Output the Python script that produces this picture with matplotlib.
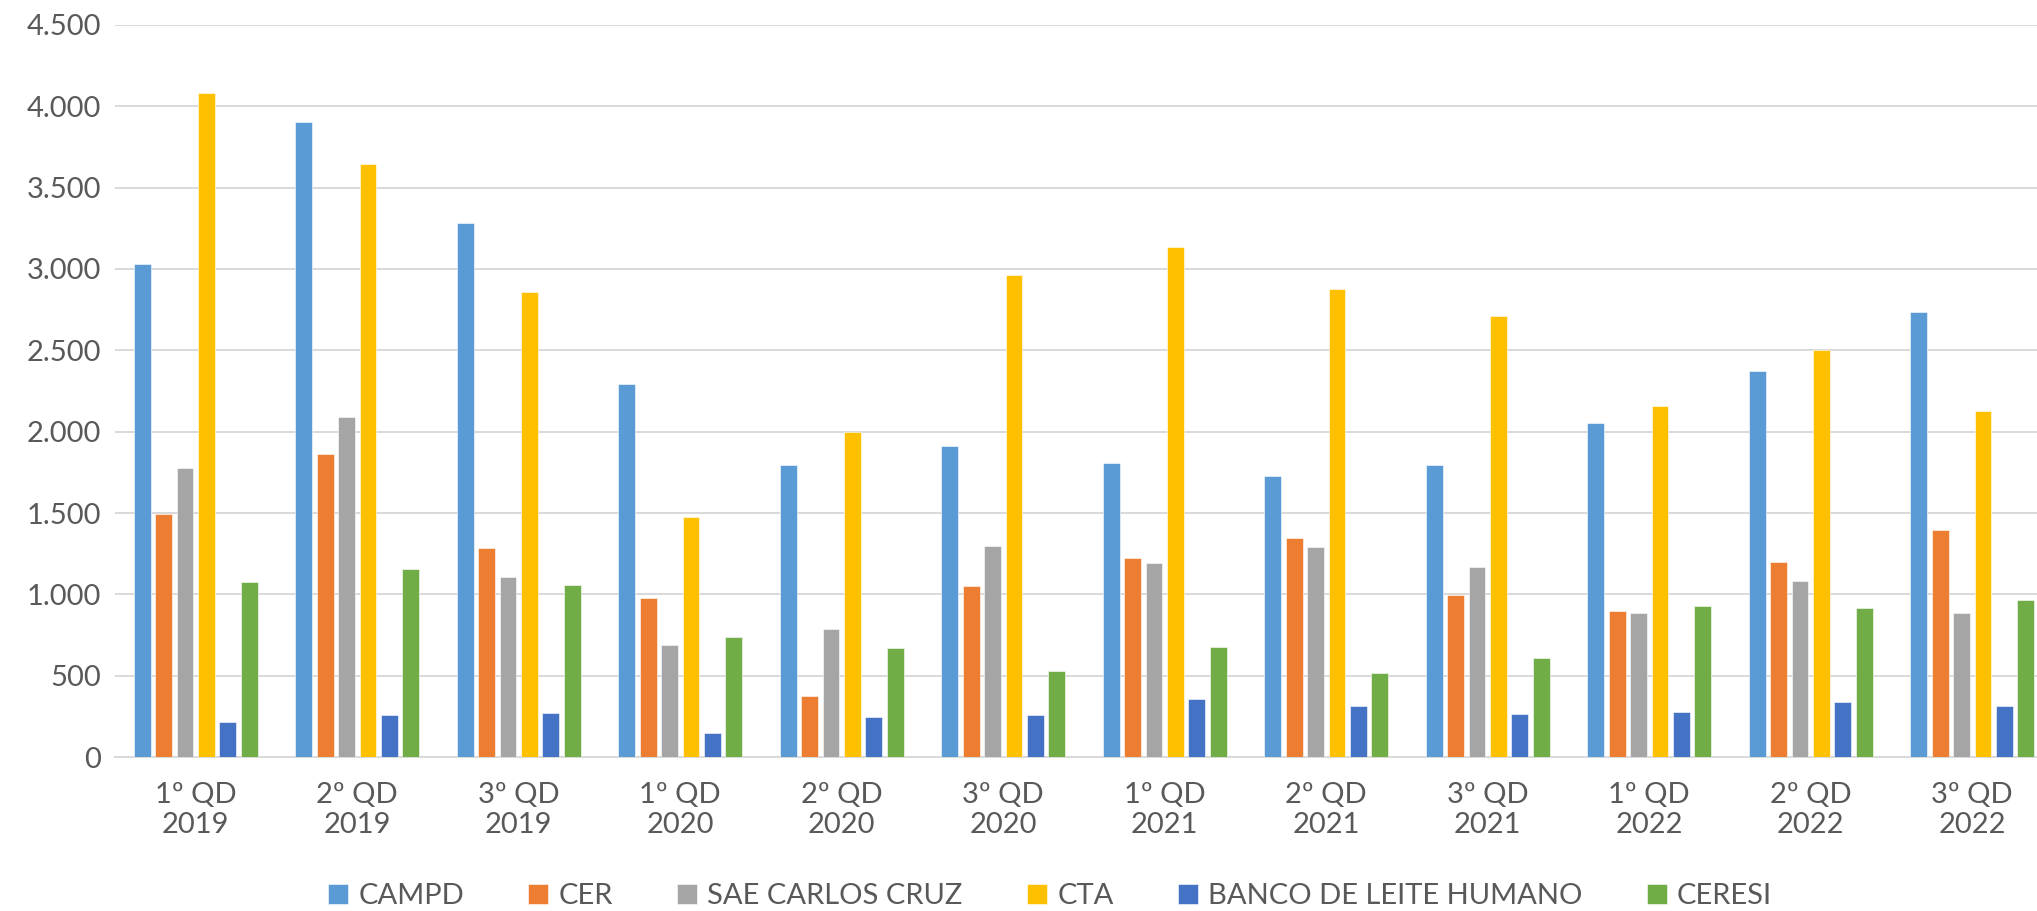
import numpy as np
import matplotlib.pyplot as plt
from matplotlib.ticker import FuncFormatter, MultipleLocator

plt.rcParams['font.family'] = ['Lato', 'DejaVu Sans']

periods = ['1º QD\n2019', '2º QD\n2019', '3º QD\n2019',
           '1º QD\n2020', '2º QD\n2020', '3º QD\n2020',
           '1º QD\n2021', '2º QD\n2021', '3º QD\n2021',
           '1º QD\n2022', '2º QD\n2022', '3º QD\n2022']

campd = [3030, 3905, 3280, 2290, 1795, 1910, 1805, 1725, 1795, 2055, 2370, 2735]
cer = [1495, 1860, 1285, 980, 378, 1053, 1222, 1348, 998, 898, 1198, 1398]
sae = [1778, 2088, 1108, 686, 787, 1297, 1195, 1291, 1167, 887, 1083, 888]
cta = [4085, 3645, 2856, 1475, 1995, 2963, 3137, 2879, 2713, 2157, 2500, 2130]
banco = [218, 256, 268, 148, 246, 257, 355, 313, 267, 275, 340, 315]
ceresi = [1073, 1158, 1055, 735, 668, 531, 676, 515, 606, 927, 915, 965]

series_names = ['CAMPD', 'CER', 'SAE CARLOS CRUZ', 'CTA', 'BANCO DE LEITE HUMANO', 'CERESI']
series_vals = [campd, cer, sae, cta, banco, ceresi]
colors = ['#5B9BD5', '#ED7D31', '#A5A5A5', '#FFC000', '#4472C4', '#70AD47']

txt = '#595959'
W, H = 2037, 911

fig = plt.figure(figsize=(W / 100, H / 100), dpi=100)
# plot area runs past the right edge, the source image is cropped there
ax = fig.add_axes([115 / W, 1 - 757 / H, 1938 / W, 732 / H])

x = np.arange(len(periods))
pitch = 0.133
bw = 0.105
for i, (name, vals, c) in enumerate(zip(series_names, series_vals, colors)):
    ax.bar(x + (i - 2.5) * pitch, vals, width=bw, color=c, label=name,
           edgecolor='white', linewidth=0.4, zorder=3)

ax.set_xlim(-0.5, len(periods) - 0.5)
ax.set_ylim(0, 4500)
ax.yaxis.set_major_locator(MultipleLocator(500))
ax.yaxis.set_major_formatter(FuncFormatter(lambda v, p: f'{int(v):,}'.replace(',', '.')))
ax.grid(axis='y', color='#D9D9D9', linewidth=1.4, zorder=0)
ax.set_axisbelow(True)
for s in ['top', 'right', 'left']:
    ax.spines[s].set_visible(False)
ax.spines['bottom'].set_color('#D9D9D9')
ax.spines['bottom'].set_linewidth(1.4)

ax.set_xticks(x)
ax.set_xticklabels(periods, linespacing=1.2)
ax.tick_params(axis='both', length=0, colors=txt, labelsize=21)
ax.tick_params(axis='y', pad=10)
ax.tick_params(axis='x', pad=18)

fig.legend(loc='center', bbox_to_anchor=(1050 / W, 1 - 896 / H), ncol=6,
           frameon=False, fontsize=21, labelcolor=txt,
           handlelength=0.69, handleheight=0.69, handletextpad=0.35,
           columnspacing=2.2, borderaxespad=0, borderpad=0)

fig.savefig('out.png', dpi=100, facecolor='white')
